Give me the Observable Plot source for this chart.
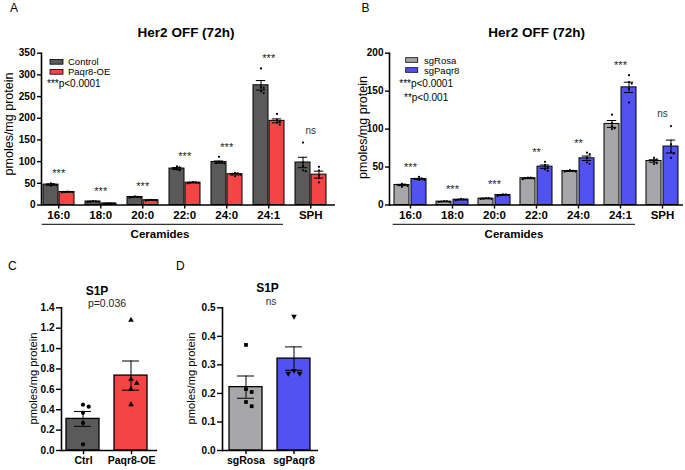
<!DOCTYPE html>
<html><head><meta charset="utf-8">
<script src="https://cdn.jsdelivr.net/npm/d3@7"></script>
<script src="https://cdn.jsdelivr.net/npm/@observablehq/plot@0.6"></script>
<style>
body{margin:0;background:#fff;}
#fig{position:relative;width:685px;height:470px;overflow:hidden;background:#fff}
#fig svg{position:absolute}
</style></head><body><div id="fig"></div>
<script>
// ---------- DATA ----------
const groups = ["16:0","18:0","20:0","22:0","24:0","24:1","SPH"];

// Panel A
const seriesA = ["Control","Paqr8-OE"];
const colorsA = ["#5a5a5a","#f44444"];
const meanA_ctrl = [47, 8, 18.5, 84, 99, 276, 98];
const semA_ctrl  = [1.5, 0.4, 0.6, 2, 2.5, 11, 12];
const meanA_oe   = [30, 3.5, 11, 51.5, 71, 194, 70];
const semA_oe    = [0.4, 0.3, 0.4, 0.6, 1.8, 4.5, 8];
const ptsA_ctrl = [[44,46,47,48,50],[7,7.5,8,8.5,9],[17,18,18.5,19,20],[80,82,85,87,89],[96,97,98,99,111],[258,262,270,272,315],[78,80,90,98,144]];
const ptsA_oe   = [[29,29.5,30,30.5,31],[2.5,3,3,3.5,4],[10,10.5,11,11.5,12],[50,51,51.5,52,53],[66,70,72,73,74],[185,190,192,196,210],[52,62,68,80,88]];
const sigA = ["***","***","***","***","***","***","ns"];
const yTicksA = [0,50,100,150,200,250,300,350];

// Panel B
const seriesB = ["sgRosa","sgPaqr8"];
const colorsB = ["#a7a7a9","#5252f2"];
const meanB_rosa  = [26.4, 4.4, 8.4, 35.2, 44.8, 106.8, 58];
const semB_rosa   = [0.8, 0.2, 0.3, 0.4, 0.5, 4.5, 1.6];
const meanB_paqr8 = [34.3, 7, 13.2, 50.5, 61.5, 155, 77];
const semB_paqr8  = [0.7, 0.3, 0.4, 2.2, 3, 6.8, 8.5];
const ptsB_rosa  = [[24,25,26,27,28],[4,4,4.5,5,5],[8,8,8.5,9,9],[34,35,35,36,36],[44,44,45,45,46],[100,101,104,108,119],[54,55,58,60,62]];
const ptsB_paqr8 = [[33,33,34,35,37],[6,7,7,7.5,8],[12,13,13,14,14],[45,47,50,53,57],[54,56,62,67,69],[135,153,160,162,171],[62,68,70,80,104]];
const sigB = ["***","***","***","**","**","***","ns"];
const yTicksB = [0,50,100,150,200];

// Panel C
const groupsC = ["Ctrl","Paqr8-OE"];
const meanC = [0.31, 0.735];
const semC  = [0.073, 0.143];
const ptsC_ctrl = [0.45,0.43,0.37,0.27,0.06];
const ptsC_oe   = [1.28,0.70,0.66,0.60,0.45];
const yTicksC = [0,0.2,0.4,0.6,0.8,1.0,1.2,1.4];

// Panel D
const groupsD = ["sgRosa","sgPaqr8"];
const meanD = [0.222, 0.322];
const semD  = [0.039, 0.041];
const ptsD_rosa  = [0.37,0.215,0.205,0.17,0.155];
const ptsD_paqr8 = [0.47,0.28,0.27,0.27];
const yTicksD = [0,0.1,0.2,0.3,0.4,0.5];

// ---------- DRAWING ----------
const FONT = "Liberation Sans, Arial, Helvetica, sans-serif";
const fig = document.getElementById("fig");

function place(svg, left, top) {
  svg.style.left = left + "px"; svg.style.top = top + "px";
  fig.appendChild(svg);
}

// deterministic side-by-side placement of replicate points that would overlap (beeswarm slots)
function assignSlots(values, pxPerUnit, minDist) {
  const order = values.map((v, i) => i).sort((a, b) => values[b] - values[a]);
  const placed = [], res = new Array(values.length);
  for (const i of order) {
    const py = values[i] * pxPerUnit;
    for (const k of [0, 1, -1, 2, -2, 3, -3, 4, -4]) {
      if (placed.every(p => p.k !== k || Math.abs(p.py - py) >= minDist)) {
        res[i] = k; placed.push({k, py}); break;
      }
    }
  }
  return res;
}

function groupedPlot(c) {
  const bars = [], pts = [], sig = [];
  const pxPerUnit = (c.height - c.marginTop - c.marginBottom) / c.yDomain[1];
  c.groups.forEach((g, i) => {
    c.series.forEach((s, j) => {
      bars.push({g, s, mean: c.means[j][i], sem: c.sems[j][i]});
      const vals = c.points[j][i];
      const sl = assignSlots(vals, pxPerUnit, 2 * c.r + 0.4);
      vals.forEach((v, k) => pts.push({g, s, v, slot: sl[k]}));
    });
    sig.push({g, label: c.sig[i], top: d3.max(c.points, p => d3.max(p[i]))});
  });
  const facetW = (c.width - c.marginLeft - c.marginRight) / c.groups.length;
  const step = c.barW + c.gap;
  const pi = c.gap / step;
  const po = (facetW / step - (2 - pi)) / 2;
  const align = c.offset / (facetW - step * (2 - pi));
  const center = c.offset + step - c.gap / 2 - facetW / 2; // group centre relative to facet centre
  const marks = [
    Plot.barY(bars, {fx: "g", x: "s", y: "mean", fill: "s", stroke: "black", strokeWidth: 1}),
    Plot.ruleX(bars, {fx: "g", x: "s", y1: d => d.mean - d.sem, y2: d => d.mean + d.sem, stroke: "black", strokeWidth: 1}),
    Plot.tickY(bars, {fx: "g", x: "s", y: d => d.mean + d.sem, insetLeft: 2.8, insetRight: 2.8, stroke: "black", strokeWidth: 1}),
    Plot.tickY(bars, {fx: "g", x: "s", y: d => d.mean - d.sem, insetLeft: 2.8, insetRight: 2.8, stroke: "black", strokeWidth: 1})
  ];
  for (const [k, list] of d3.groups(pts, d => d.slot)) {
    marks.push(Plot.dot(list, {fx: "g", x: "s", y: "v", r: c.r, fill: "black", stroke: "none", dx: k * (2 * c.r + 0.5)}));
  }
  marks.push(
    Plot.text(sig.filter(d => d.label !== "ns"), {fx: "g", y: "top", text: "label", lineAnchor: "bottom", dy: -6, dx: center, fontSize: 11, fill: "#222"}),
    Plot.text(sig.filter(d => d.label === "ns"), {fx: "g", y: "top", text: "label", lineAnchor: "bottom", dy: -9, dx: center, fontSize: 10, fill: "#333"}),
    Plot.ruleY([0], {stroke: "black", strokeWidth: 1.6}),
    Plot.frame({anchor: "left", facetAnchor: "left", stroke: "black", strokeWidth: 1.6}),
    Plot.axisY(c.yTicks, {anchor: "left", tickSize: 4, tickPadding: 2, fontSize: 10, fontWeight: "bold", strokeWidth: 1.4, label: null}),
    Plot.axisFx({anchor: "bottom", tickSize: 4, tickPadding: 2, fontSize: 11.5, fontWeight: "bold", strokeWidth: 1.4, label: null, dx: center})
  );
  return Plot.plot({
    width: c.width, height: c.height,
    marginLeft: c.marginLeft, marginRight: c.marginRight, marginTop: c.marginTop, marginBottom: c.marginBottom,
    style: {fontFamily: FONT, background: "transparent", overflow: "visible", color: "black"},
    fx: {domain: c.groups, padding: 0},
    x: {domain: c.series, paddingInner: pi, paddingOuter: po, align, axis: null},
    y: {domain: c.yDomain},
    color: {domain: c.series, range: c.colors},
    marks
  });
}

function s1pPlot(c) {
  const bars = c.groups.map((g, i) => ({g, mean: c.means[i], sem: c.sems[i]}));
  const pxPerUnit = (c.height - c.marginTop - c.marginBottom) / c.yDomain[1];
  const facetW = (c.width - c.marginLeft - c.marginRight) / c.groups.length;
  const po = (facetW / c.barW - 1) / 2;
  const align = c.offset / (facetW - c.barW);
  const center = c.offset + c.barW / 2 - facetW / 2;
  const X = () => "bar";
  const marks = [
    Plot.barY(bars, {fx: "g", x: X, y: "mean", fill: "g", stroke: "black", strokeWidth: 1.3}),
    Plot.ruleX(bars, {fx: "g", x: X, y1: d => d.mean - d.sem, y2: d => d.mean + d.sem, stroke: "black", strokeWidth: 1}),
    Plot.tickY(bars, {fx: "g", x: X, y: d => d.mean + d.sem, insetLeft: 8, insetRight: 8, stroke: "black", strokeWidth: 1}),
    Plot.tickY(bars, {fx: "g", x: X, y: d => d.mean - d.sem, insetLeft: 8, insetRight: 8, stroke: "black", strokeWidth: 1})
  ];
  c.groups.forEach((g, i) => {
    const vals = c.points[i];
    const sl = assignSlots(vals, pxPerUnit, 2 * c.r + 0.5);
    const pts = vals.map((v, k) => ({g, v, slot: sl[k]}));
    for (const [k, list] of d3.groups(pts, d => d.slot)) {
      marks.push(Plot.dot(list, {fx: "g", x: X, y: "v", r: c.r, symbol: c.symbols[i], rotate: c.rotates[i],
        fill: "black", stroke: "none", dx: k * (2 * c.r + 1.5)}));
    }
  });
  marks.push(
    Plot.ruleY([0], {stroke: "black", strokeWidth: 1.6}),
    Plot.frame({anchor: "left", facetAnchor: "left", stroke: "black", strokeWidth: 1.6}),
    Plot.axisY(c.yTicks, {anchor: "left", tickSize: 5, tickPadding: 2, fontSize: 10, fontWeight: "bold", strokeWidth: 1.4, label: null, tickFormat: d => d.toFixed(1)}),
    Plot.axisFx({anchor: "bottom", tickSize: 4, tickPadding: 2, fontSize: 10.5, fontWeight: "bold", strokeWidth: 1.4, label: null, dx: center})
  );
  return Plot.plot({
    width: c.width, height: c.height,
    marginLeft: c.marginLeft, marginRight: c.marginRight, marginTop: c.marginTop, marginBottom: c.marginBottom,
    style: {fontFamily: FONT, background: "transparent", overflow: "visible", color: "black"},
    fx: {domain: c.groups, padding: 0},
    x: {domain: ["bar"], paddingInner: 0, paddingOuter: po, align, axis: null},
    y: {domain: c.yDomain},
    color: {domain: c.groups, range: c.colors},
    marks
  });
}

place(groupedPlot({
  groups, series: seriesA, colors: colorsA,
  means: [meanA_ctrl, meanA_oe], sems: [semA_ctrl, semA_oe], points: [ptsA_ctrl, ptsA_oe], sig: sigA,
  yDomain: [0, 350], yTicks: yTicksA, r: 1.1,
  width: 340, height: 230, marginLeft: 41, marginRight: 5, marginTop: 52.7, marginBottom: 25.5,
  barW: 14.5, gap: 1.5, offset: 2
}), 0, 0);

place(groupedPlot({
  groups, series: seriesB, colors: colorsB,
  means: [meanB_rosa, meanB_paqr8], sems: [semB_rosa, semB_paqr8], points: [ptsB_rosa, ptsB_paqr8], sig: sigB,
  yDomain: [0, 200], yTicks: yTicksB, r: 1.1,
  width: 345, height: 230, marginLeft: 49, marginRight: 2, marginTop: 52.7, marginBottom: 25.5,
  barW: 15, gap: 2, offset: 5
}), 340, 0);

place(s1pPlot({
  groups: groupsC, colors: colorsA, means: meanC, sems: semC, points: [ptsC_ctrl, ptsC_oe],
  symbols: ["circle","triangle"], rotates: [0, 0], r: 2.1,
  yDomain: [0, 1.4], yTicks: yTicksC,
  width: 170, height: 190, marginLeft: 61, marginRight: 13, marginTop: 27.3, marginBottom: 20,
  barW: 33.5, offset: 5.3
}), 0, 280);

place(s1pPlot({
  groups: groupsD, colors: colorsB, means: meanD, sems: semD, points: [ptsD_rosa, ptsD_paqr8],
  symbols: ["square","triangle"], rotates: [0, 180], r: 2.1,
  yDomain: [0, 0.5], yTicks: yTicksD,
  width: 150, height: 190, marginLeft: 42, marginRight: 12, marginTop: 27.3, marginBottom: 20,
  barW: 33, offset: 7
}), 180, 280);

// ---------- ANNOTATIONS ----------
const ov = d3.select(fig).append("svg").attr("width", 685).attr("height", 470)
  .style("left", "0px").style("top", "0px").style("pointer-events", "none")
  .attr("font-family", FONT);
function txt(s, x, y, o = {}) {
  ov.append("text").attr("x", x).attr("y", y)
    .attr("text-anchor", o.anchor || "start").attr("font-size", o.size || 10)
    .attr("font-weight", o.weight || "normal").attr("fill", o.fill || "#000").text(s);
}
function vtxt(s, cx, cy, size) {
  ov.append("text").attr("transform", `translate(${cx},${cy}) rotate(-90)`)
    .attr("text-anchor", "middle").attr("dy", "0.35em").attr("font-size", size).text(s);
}
function swatch(x, y, w, h, color) {
  ov.append("rect").attr("x", x).attr("y", y).attr("width", w).attr("height", h)
    .attr("fill", color).attr("stroke", "#000").attr("stroke-width", 0.8);
}
function hline(x1, x2, y) {
  ov.append("line").attr("x1", x1).attr("x2", x2).attr("y1", y).attr("y2", y).attr("stroke", "#000").attr("stroke-width", 1);
}

// Panel A
txt("A", 10, 11.5, {size: 12});
txt("Her2 OFF (72h)", 186, 37, {size: 13.5, weight: "bold", anchor: "middle"});
vtxt("pmoles/mg protein", 9, 124, 12.5);
swatch(50, 59.5, 13, 4.7, colorsA[0]); txt(seriesA[0], 68, 65, {size: 9.5});
swatch(50, 69.5, 13, 4.7, colorsA[1]); txt(seriesA[1], 68, 75, {size: 9.5});
txt("***p<0.0001", 47, 87.3, {size: 10});
hline(41.7, 283, 224.3);
txt("Ceramides", 160, 238.3, {size: 11.5, weight: "bold", anchor: "middle"});

// Panel B
txt("B", 361.5, 11.5, {size: 12});
txt("Her2 OFF (72h)", 536.7, 37, {size: 13.5, weight: "bold", anchor: "middle"});
vtxt("pmoles/mg protein", 363, 127.5, 12.5);
swatch(405.7, 57.7, 12, 4.6, colorsB[0]); txt(seriesB[0], 424, 63.5, {size: 9.5});
swatch(405.7, 67.7, 12, 4.6, colorsB[1]); txt(seriesB[1], 424, 73.5, {size: 9.5});
txt("***p<0.0001", 399.3, 87.3, {size: 10});
txt("**p<0.001", 404, 100.7, {size: 10});
hline(392.7, 635, 224.3);
txt("Ceramides", 514, 238.3, {size: 11.5, weight: "bold", anchor: "middle"});

// Panel C
txt("C", 8, 270, {size: 12});
txt("S1P", 97, 295, {size: 12, weight: "bold", anchor: "middle"});
txt("p=0.036", 107, 307, {size: 10.5, anchor: "middle", fill: "#222"});
vtxt("pmoles/mg protein", 33, 378.5, 11.2);

// Panel D
txt("D", 176, 270, {size: 12});
txt("S1P", 267.5, 292, {size: 12, weight: "bold", anchor: "middle"});
txt("ns", 271, 305, {size: 10, anchor: "middle", fill: "#333"});
vtxt("pmoles/mg protein", 191, 378.5, 11.2);
</script>
</body></html>
